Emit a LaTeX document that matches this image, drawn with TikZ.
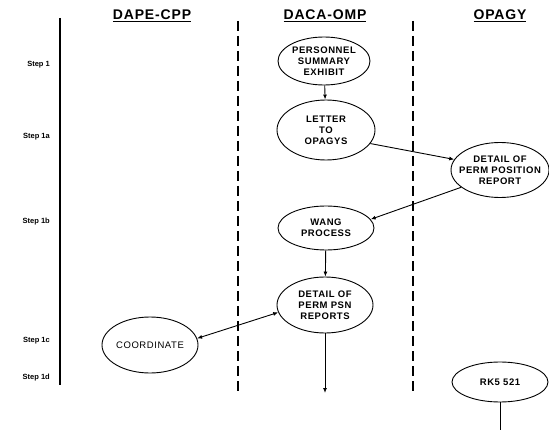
\documentclass[tikz,border=0pt]{standalone}
\usepackage{fontspec}
\setmainfont{Liberation Sans}
\newfontfamily\widesans[LetterSpace=6]{Liberation Sans}
\usetikzlibrary{shapes.geometric,arrows.meta}
\begin{document}
\begin{tikzpicture}[x=1pt,y=-1pt,
  every node/.style={font=\bfseries},
  lane/.style={line width=1.1pt},
  dashlane/.style={line width=1.2pt,dash pattern=on 10pt off 5pt},
  heading/.style={font=\widesans\fontsize{14}{16}\bfseries, inner sep=0pt},
  steplabel/.style={font=\fontsize{7.5}{8}\bfseries, anchor=east, inner sep=0pt},
  proc/.style={ellipse, draw, line width=0.9pt, inner sep=0pt, align=center,
    font=\widesans\fontsize{9.5}{11}\bfseries},
  flow/.style={line width=0.9pt, -{Latex[length=5pt,width=4pt]}},
  both/.style={line width=0.9pt, {Latex[length=5pt,width=4pt]}-{Latex[length=5pt,width=4pt]}}
]
\useasboundingbox (0,0) rectangle (549,433);

% swim-lane separators
\coordinate (l0t) at (60,18);   \coordinate (l0b) at (60,385);
\coordinate (l1t) at (238,21);  \coordinate (l1b) at (238,391);
\coordinate (l2t) at (413,21);  \coordinate (l2b) at (413,393);
\draw[lane] (l0t) -- (l0b);
\draw[dashlane] (l1t) -- (l1b);
\draw[dashlane] (l2t) -- (l2b);

% lane headings
\node[heading] (h1) at (152,16) {\underline{DAPE-CPP}};
\node[heading] (h2) at (325,16) {\underline{DACA-OMP}};
\node[heading] (h3) at (500,16) {\underline{OPAGY}};

% step labels
\node[steplabel] (s1)  at (50,65)  {Step 1};
\node[steplabel] (s1a) at (50,137) {Step 1a};
\node[steplabel] (s1b) at (50,222) {Step 1b};
\node[steplabel] (s1c) at (50,341) {Step 1c};
\node[steplabel] (s1d) at (50,378) {Step 1d};

% process ellipses
\node[proc, minimum width=92pt, minimum height=48pt] (pse) at (324,61)
  {PERSONNEL\\SUMMARY\\EXHIBIT};
\node[proc, minimum width=98pt, minimum height=60pt] (let) at (326,130)
  {LETTER\\TO\\OPAGYS};
\node[proc, minimum width=98pt, minimum height=55pt, inner xsep=-14pt] (dpp) at (500,170)
  {DETAIL OF\\PERM POSITION\\REPORT};
\node[proc, minimum width=96pt, minimum height=44pt] (wang) at (326,228)
  {WANG\\PROCESS};
\node[proc, minimum width=96pt, minimum height=56pt] (psn) at (325,305)
  {DETAIL OF\\PERM PSN\\REPORTS};
\node[proc, minimum width=96pt, minimum height=56pt, font=\widesans\fontsize{9.5}{11}\mdseries] (coord) at (150,345)
  {COORDINATE};
\node[proc, minimum width=96pt, minimum height=40pt] (rk) at (500,382)
  {RK5 521};

\coordinate (psnout) at (325,393);
\coordinate (rkout) at (500,430);

% connectors
\draw[flow] (pse) -- (let);
\draw[flow] (let.-17) -- (dpp.167);
\draw[flow] (dpp.204) -- (wang.11);
\draw[flow] (wang) -- (psn);
\draw[both] (coord.8) -- (psn.189);
\draw[flow] (psn) -- (psnout);
\draw[line width=0.9pt] (rk) -- (rkout);
\end{tikzpicture}
\end{document}
